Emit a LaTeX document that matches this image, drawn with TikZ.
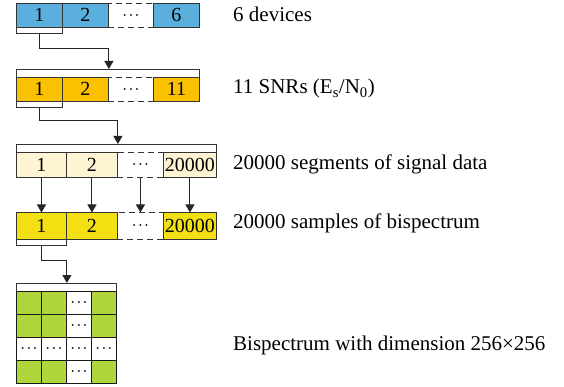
\documentclass[tikz,border=0pt]{standalone}
\usepackage{fontspec}
\setmainfont{Liberation Serif}
\usetikzlibrary{arrows.meta}

\definecolor{devblue}{HTML}{5BAFDC}
\definecolor{snrgold}{HTML}{FAC100}
\definecolor{segcream}{HTML}{FEF3D3}
\definecolor{bisyellow}{HTML}{F2E012}
\definecolor{leaf}{HTML}{AFD63B}
\definecolor{edge}{HTML}{333333}

\newcommand{\rowdots}{{\fontsize{12}{12}\selectfont\boldmath$\cdots$}}
\newcommand{\gdots}{{\fontsize{12}{12}\selectfont\boldmath$\cdots$}}

\tikzset{
  cell/.style={draw=edge, line width=0.9pt, anchor=north west, inner sep=0pt,
    font=\fontsize{20}{20}\selectfont, text height=13pt, text depth=0pt},
  gap/.style={draw=edge, line width=0.9pt, anchor=north west, inner sep=0pt,
    dash pattern=on 6pt off 4pt, fill=white},
  bar/.style={draw=edge, line width=0.9pt, fill=white, anchor=north west, inner sep=0pt},
  gcell/.style={draw=black!90, line width=0.9pt, anchor=north west, inner sep=0pt,
    minimum width=25pt, minimum height=23pt},
  link/.style={draw=black!85, line width=1pt, -{Triangle[width=9pt,length=8pt]}},
  caption/.style={anchor=base west, inner sep=0pt, font=\fontsize{21}{21}\selectfont},
}

\begin{document}
\begin{tikzpicture}[x=1pt,y=-1pt]
\useasboundingbox (0,0) rectangle (564,387);

% devices
\node[gap, minimum width=45pt, minimum height=24pt] (a3) at (108,3) {\rowdots};
\node[cell, fill=devblue, minimum width=46pt, minimum height=24pt] (a1) at (16,3) {1};
\node[cell, fill=devblue, minimum width=46pt, minimum height=24pt] (a2) at (62,3) {2};
\node[cell, fill=devblue, minimum width=46pt, minimum height=24pt] (a4) at (153,3) {6};
\node[bar, minimum width=46pt, minimum height=6pt] (u1) at (16,27) {};

% SNRs
\node[bar, minimum width=183pt, minimum height=8pt] (bar2) at (16,69) {};
\node[gap, minimum width=45pt, minimum height=24pt] (b3) at (108,77) {\rowdots};
\node[cell, fill=snrgold, minimum width=46pt, minimum height=24pt] (b1) at (16,77) {1};
\node[cell, fill=snrgold, minimum width=46pt, minimum height=24pt] (b2) at (62,77) {2};
\node[cell, fill=snrgold, minimum width=46pt, minimum height=24pt] (b4) at (153,77) {11};
\node[bar, minimum width=46pt, minimum height=6pt] (u2) at (16,101) {};

% signal segments
\node[bar, minimum width=200pt, minimum height=8pt] (bar3) at (16,144) {};
\node[gap, minimum width=46pt, minimum height=25pt] (s3) at (117,152) {\rowdots};
\node[cell, fill=segcream, minimum width=50pt, minimum height=25pt] (s1) at (16,152) {1};
\node[cell, fill=segcream, minimum width=51pt, minimum height=25pt] (s2) at (66,152) {2};
\node[cell, fill=segcream, minimum width=53pt, minimum height=25pt] (s4) at (163,152) {20000};

% bispectrum samples
\node[gap, minimum width=46pt, minimum height=26pt] (p3) at (117,212.5) {\rowdots};
\node[cell, fill=bisyellow, minimum width=50pt, minimum height=26pt] (p1) at (16,212.5) {1};
\node[cell, fill=bisyellow, minimum width=51pt, minimum height=26pt] (p2) at (66,212.5) {2};
\node[cell, fill=bisyellow, minimum width=53pt, minimum height=26pt] (p4) at (163,212.5) {20000};
\node[bar, minimum width=50pt, minimum height=6.5pt] (u4) at (16,238.5) {};

% bispectrum matrix
\node[bar, minimum width=100pt, minimum height=8pt] (bar5) at (16,283) {};
\foreach \r in {1,2,3,4}{
  \foreach \c in {1,2,3,4}{
    \pgfmathtruncatemacro\isdot{(\r==3)||(\c==3)}
    \ifnum\isdot=1
      \node[gcell, fill=white] (g\r\c) at ({16+25*(\c-1)},{291+23*(\r-1)}) {\gdots};
    \else
      \node[gcell, fill=leaf] (g\r\c) at ({16+25*(\c-1)},{291+23*(\r-1)}) {};
    \fi
  }
}

% connectors
\draw[link] (u1.south) -- ++(0,15) -| (bar2.north -| a2.east);
\draw[link] (u2.south) -- ++(0,13) -| (bar3.north -| s2.east);
\draw[link] (s1.south) -- (p1.north);
\draw[link] (s2.south) -- (p2.north);
\draw[link] (s3.south) -- (p3.north);
\draw[link] (s4.south) -- (p4.north);
\draw[link] (u4.south) -- ++(0,15) -| (bar5.north -| g12.east);

% captions
\node[caption] (t1) at (233,21.5) {6 devices};
\node[caption] (t2) at (233,94) {11 SNRs (E\textsubscript{s}/N\textsubscript{0})};
\node[caption] (t3) at (233,170) {20000 segments of signal data};
\node[caption] (t4) at (233,229) {20000 samples of bispectrum};
\node[caption] (t5) at (233,350) {Bispectrum with dimension 256×256};
\end{tikzpicture}
\end{document}
